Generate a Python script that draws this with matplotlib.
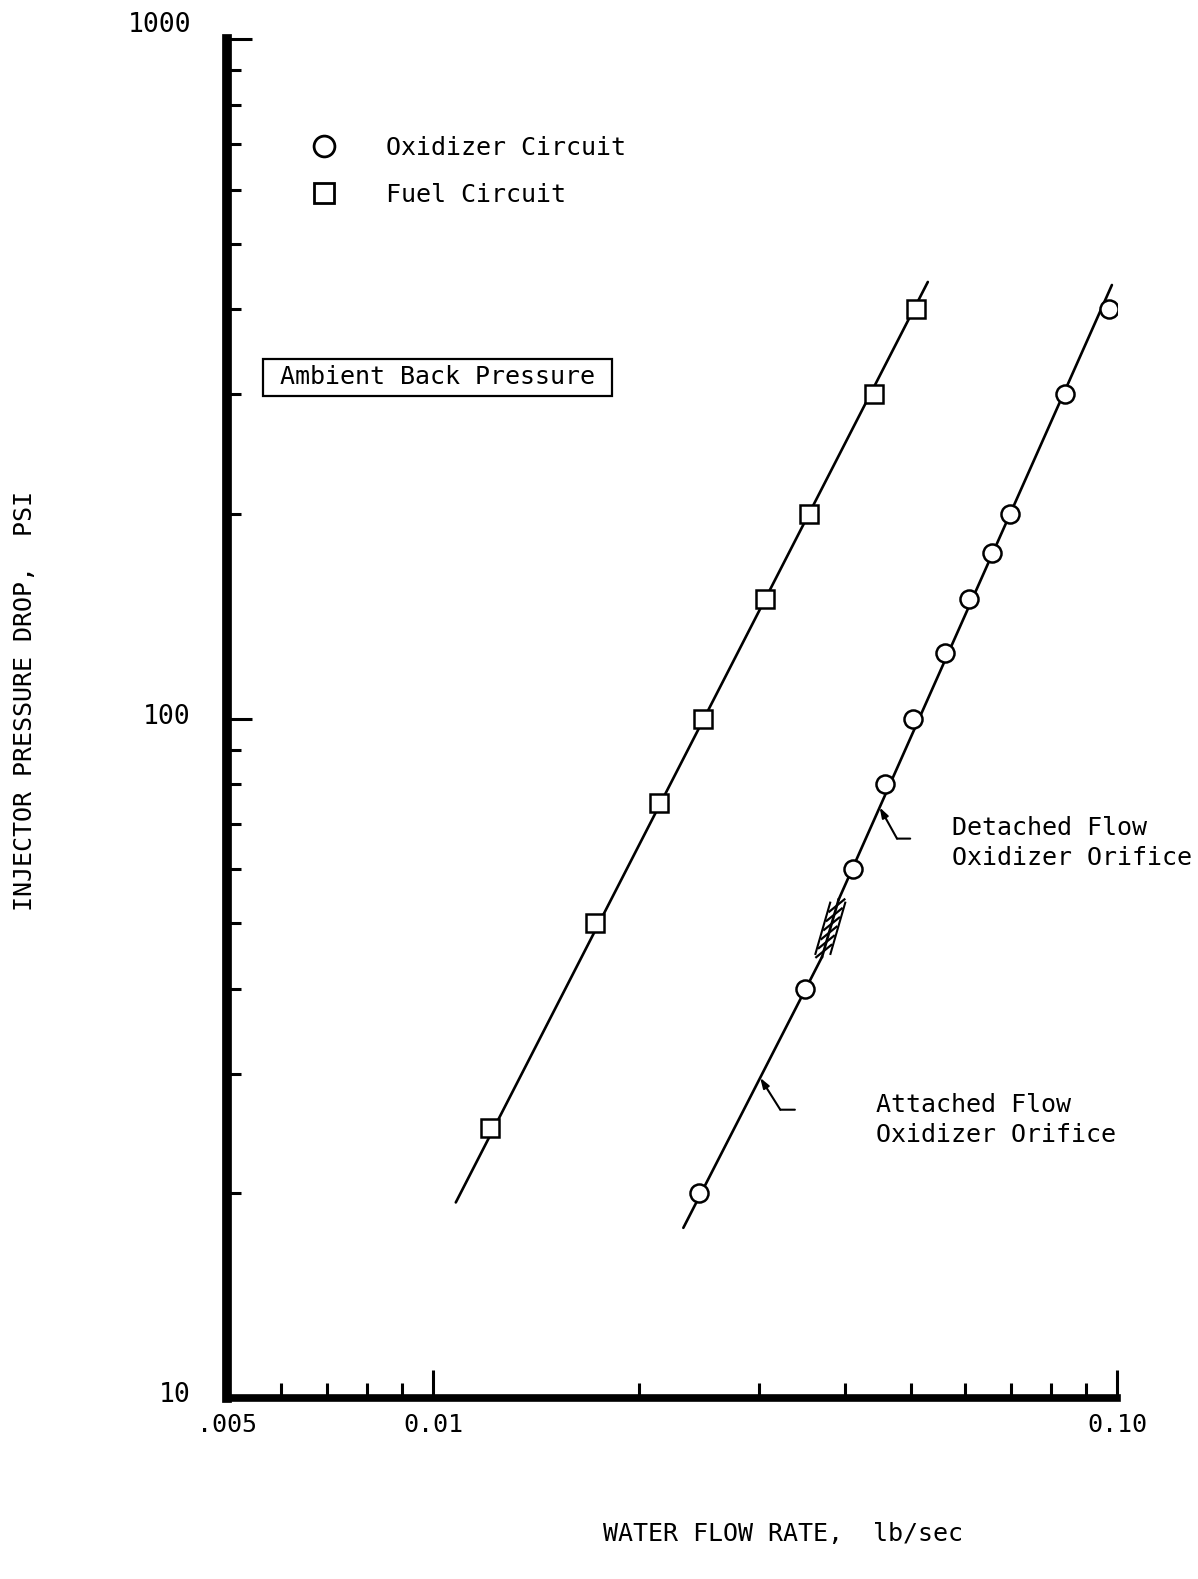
import matplotlib
matplotlib.use("Agg")
import matplotlib.pyplot as plt
import numpy as np
from matplotlib.transforms import ScaledTranslation, offset_copy
from matplotlib.patches import Rectangle

# ---------------- data ----------------
fuel_flow = [0.0121, 0.01727, 0.0214, 0.0248, 0.03055, 0.03548, 0.04408, 0.0508]
fuel_dp = [25, 50, 75, 100, 150, 200, 300, 400]

ox_flow = [0.0245, 0.0350, 0.0411, 0.0458, 0.0504, 0.0561, 0.0607, 0.0656, 0.0697, 0.0839, 0.0973]
ox_dp = [20, 40, 60, 80, 100, 125, 150, 175, 200, 300, 400]

# faired lines
fuel_line_flow = [0.0108, 0.0529]
fuel_line_dp = [19.4, 439.0]
ox_attached_flow = [0.02323, 0.03706]
ox_attached_dp = [17.8, 44.6]
ox_detached_flow = [0.03917, 0.0983]
ox_detached_dp = [54.1, 434.5]

# annotation anchors (pressure drop on the line where leaders point)
detached_leader_dp = 74.0
attached_leader_dp = 29.6

# axes ticks
x_major = [0.005, 0.01, 0.1]
x_major_labels = [".005", "0.01", "0.10"]
x_minor = [0.006, 0.007, 0.008, 0.009, 0.02, 0.03, 0.04, 0.05, 0.06, 0.07, 0.08, 0.09]
y_major = [10, 100, 1000]
y_major_labels = ["10", "100", "1000"]
y_minor = [20, 30, 40, 50, 60, 70, 80, 90, 200, 300, 400, 500, 600, 700, 800, 900]

legend_labels = ["Oxidizer Circuit", "Fuel Circuit"]
box_text = "Ambient Back Pressure"
detached_text = "Detached Flow\nOxidizer Orifice"
attached_text = "Attached Flow\nOxidizer Orifice"
xlabel = "WATER FLOW RATE,  lb/sec"
ylabel = "INJECTOR PRESSURE DROP,  PSI"

# ---------------- style ----------------
FONT = ["DejaVu Sans Mono", "Liberation Mono"]
plt.rcParams["font.family"] = FONT
FS = 18

W, H = 1198, 1579
fig = plt.figure(figsize=(W / 100, H / 100), dpi=100)
fig.patch.set_facecolor("white")

x0, x1 = 227, 1117
y0, y1 = 39, 1398
ax = fig.add_axes([x0 / W, 1 - y1 / H, (x1 - x0) / W, (y1 - y0) / H])
ax.set_xscale("log")
ax.set_yscale("log")
ax.set_xlim(0.005, 0.10)
ax.set_ylim(10, 1000)
ax.patch.set_alpha(0)

for s in ["top", "right"]:
    ax.spines[s].set_visible(False)
ax.spines["left"].set_linewidth(7)
ax.spines["bottom"].set_linewidth(5.5)
ax.spines["left"].set_capstyle("projecting")
ax.spines["bottom"].set_capstyle("projecting")

ax.set_xticks(x_major)
ax.set_xticklabels(x_major_labels)
ax.set_xticks(x_minor, minor=True)
ax.set_xticklabels([], minor=True)
ax.set_yticks(y_major)
ax.set_yticklabels(y_major_labels)
ax.set_yticks(y_minor, minor=True)
ax.set_yticklabels([], minor=True)

ax.tick_params(axis="x", which="major", direction="in", length=20, width=2.2,
               pad=11, labelsize=FS)
ax.tick_params(axis="x", which="minor", direction="in", length=11, width=2.2)
ax.tick_params(axis="y", which="major", direction="in", length=18, width=2.2,
               pad=26, labelsize=FS + 1)
ax.tick_params(axis="y", which="minor", direction="in", length=10, width=2.2)

# lines
lw = 1.9
ax.plot(fuel_line_flow, fuel_line_dp, color="black", lw=lw, solid_capstyle="round")
ax.plot(ox_attached_flow, ox_attached_dp, color="black", lw=lw, solid_capstyle="round")
ax.plot(ox_detached_flow, ox_detached_dp, color="black", lw=lw, solid_capstyle="round")
# connecting piece through the transition band
ax.plot([ox_attached_flow[1], ox_detached_flow[0]], [ox_attached_dp[1], ox_detached_dp[0]],
        color="black", lw=lw)

# hatched transition band: a "ladder" along the connecting piece
lf0, lf1 = np.log10(ox_attached_flow[1]), np.log10(ox_detached_flow[0])
lp0, lp1 = np.log10(ox_attached_dp[1]), np.log10(ox_detached_dp[0])
off = 0.0110  # decades of flow
for sgn in (-1, 1):
    ax.plot(10 ** (np.array([lf0 + 0.05 * (lf1 - lf0), lf0 + 0.95 * (lf1 - lf0)]) + sgn * off),
            10 ** np.array([lp0 + 0.05 * (lp1 - lp0), lp0 + 0.95 * (lp1 - lp0)]),
            color="black", lw=1.5)
for t in np.linspace(0.10, 0.90, 6):
    fx = lf0 + t * (lf1 - lf0)
    py = lp0 + t * (lp1 - lp0)
    ax.plot([10 ** (fx - off), 10 ** (fx + off)], [10 ** (py - 0.009), 10 ** (py + 0.009)],
            color="black", lw=1.6)

# data markers
ax.plot(fuel_flow, fuel_dp, ls="none", marker="s", ms=13, mfc="white", mec="black", mew=1.8)
ax.plot(ox_flow, ox_dp, ls="none", marker="o", ms=13, mfc="white", mec="black", mew=1.8)

# legend
h_ox, = ax.plot([], [], ls="none", marker="o", ms=15, mfc="white", mec="black", mew=2)
h_fu, = ax.plot([], [], ls="none", marker="s", ms=15, mfc="white", mec="black", mew=2)
leg = ax.legend([h_ox, h_fu], legend_labels, loc="upper left",
                bbox_to_anchor=(311 / W, 1 - 136 / H), bbox_transform=fig.transFigure,
                frameon=False, fontsize=FS, handlelength=1.0, handletextpad=2.0,
                labelspacing=0.90, borderpad=0, borderaxespad=0, numpoints=1)

# boxed label
fig.text(437 / W, 1 - 377 / H, box_text, ha="center", va="center", fontsize=FS)
fig.patches.append(Rectangle((263 / W, 1 - 396 / H), 349 / W, 37 / H,
                             transform=fig.transFigure, fill=False, ec="black", lw=1.6))

# leader annotations
def on_line(dp, fl, pr):
    return 10 ** np.interp(np.log10(dp), np.log10(pr), np.log10(fl))

tip_d = (on_line(detached_leader_dp, ox_detached_flow, ox_detached_dp), detached_leader_dp)
tip_a = (on_line(attached_leader_dp, ox_attached_flow, ox_attached_dp), attached_leader_dp)

for tip, (bx_pt, by_pt, ex_pt) in [(tip_d, (12.5, -22.5, 22)), (tip_a, (14.5, -23, 25))]:
    ax.annotate("", xy=tip, xycoords="data", xytext=(bx_pt, by_pt), textcoords="offset points",
                arrowprops=dict(arrowstyle="-|>,head_length=0.6,head_width=0.2", color="black",
                                lw=1.5, shrinkA=0, shrinkB=0))
    bend_tr = offset_copy(ax.transData, fig=fig, x=bx_pt, y=by_pt, units="points")
    ax.annotate("", xy=tip, xycoords=bend_tr, xytext=(ex_pt - bx_pt, 0),
                textcoords="offset points",
                arrowprops=dict(arrowstyle="-", color="black", lw=1.5, shrinkA=0, shrinkB=0))

ax.text(952 / W, 1 - 843 / H, detached_text, transform=fig.transFigure, ha="left",
        va="center", fontsize=FS, linespacing=1.3)
ax.text(876 / W, 1 - 1120 / H, attached_text, transform=fig.transFigure, ha="left",
        va="center", fontsize=FS, linespacing=1.3)

# axis labels
ax.set_xlabel(xlabel, fontsize=FS)
ax.set_ylabel(ylabel, fontsize=FS)
ax.xaxis.set_label_coords((783 - x0) / (x1 - x0), (y1 - 1534) / (y1 - y0))
ax.yaxis.set_label_coords((25 - x0) / (x1 - x0), (y1 - 701) / (y1 - y0))
ax.xaxis.label.set_va("center")
ax.yaxis.label.set_va("center")

# small vertical offsets of the y tick labels
offs = {"1000": 17, "100": 5, "10": 6}
for lab in ax.get_yticklabels():
    d = offs.get(lab.get_text(), 0)
    lab.set_transform(lab.get_transform() + ScaledTranslation(0, d / 100, fig.dpi_scale_trans))

fig.savefig("out.png", dpi=100, facecolor="white")
